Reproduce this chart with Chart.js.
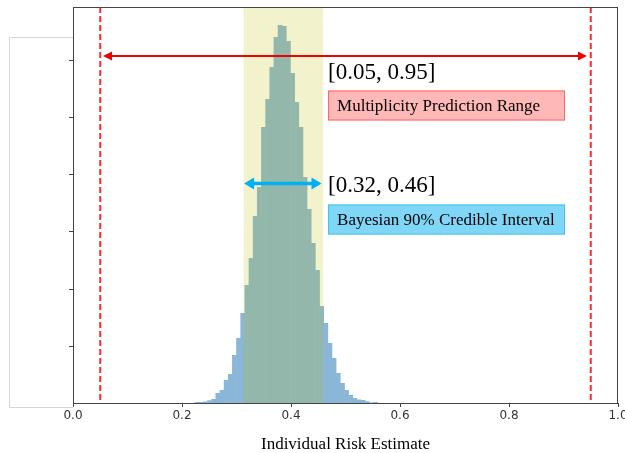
<!DOCTYPE html>
<html>
<head>
<meta charset="utf-8">
<script src="https://cdn.jsdelivr.net/npm/chart.js@4.4.0/dist/chart.umd.min.js"></script>
<style>
  html, body { margin: 0; padding: 0; background: #fff; }
  #wrap { width: 625px; height: 453px; }
</style>
</head>
<body>
<div id="wrap"><canvas id="riskChart" width="625" height="453"></canvas></div>
<script>
// Histogram of the individual risk estimate (bin centres and counts)
const binCenters = [0.2277, 0.2353, 0.2429, 0.2505, 0.2581, 0.2658, 0.2734, 0.2810, 0.2886, 0.2962,
                    0.3038, 0.3115, 0.3191, 0.3267, 0.3343, 0.3419, 0.3495, 0.3572, 0.3648, 0.3724,
                    0.3800, 0.3876, 0.3952, 0.4029, 0.4105, 0.4181, 0.4257, 0.4333, 0.4409, 0.4486,
                    0.4562, 0.4638, 0.4714, 0.4790, 0.4866, 0.4943, 0.5019, 0.5095, 0.5171, 0.5247,
                    0.5323, 0.5400, 0.5476, 0.5552];
const binCounts = [1, 1, 1.5, 2.7, 4, 10, 13, 23, 29, 48,
                   65, 90, 118, 145, 187, 216, 276, 304, 336, 366,
                   378, 377, 362, 330, 301, 276, 226, 194, 160, 133,
                   97, 80, 60, 45, 30, 20, 13, 8, 5, 3.5,
                   3, 1.7, 0.5, 1];

const xTicks = [0.0, 0.2, 0.4, 0.6, 0.8, 1.0];
const yTicks = [57, 114, 171, 229, 286, 343];   // unlabelled ticks on the left axis
const yMax = 396;

// intervals
const multiplicityRange = [0.05, 0.95];
const multiplicityArrow = [0.055, 0.943];
const credibleShade = [0.313, 0.459];
const credibleArrow = [0.314, 0.456];
const multiplicityLabel = '[0.05, 0.95]';
const credibleLabel = '[0.32, 0.46]';
const multiplicityBoxText = 'Multiplicity Prediction Range';
const credibleBoxText = 'Bayesian 90% Credible Interval';

function doubleArrow(ctx, x1, x2, y, color, lw, headLen, headW) {
    ctx.strokeStyle = color;
    ctx.fillStyle = color;
    ctx.lineWidth = lw;
    ctx.setLineDash([]);
    ctx.beginPath();
    ctx.moveTo(x1 + headLen - 1, y);
    ctx.lineTo(x2 - headLen + 1, y);
    ctx.stroke();
    ctx.beginPath();
    ctx.moveTo(x1, y);
    ctx.lineTo(x1 + headLen, y - headW);
    ctx.lineTo(x1 + headLen, y + headW);
    ctx.closePath();
    ctx.fill();
    ctx.beginPath();
    ctx.moveTo(x2, y);
    ctx.lineTo(x2 - headLen, y - headW);
    ctx.lineTo(x2 - headLen, y + headW);
    ctx.closePath();
    ctx.fill();
}

function labelBox(ctx, x1, x2, yTop, yBot, fill, stroke, text) {
    ctx.fillStyle = fill;
    ctx.fillRect(x1, yTop, x2 - x1, yBot - yTop);
    ctx.strokeStyle = stroke;
    ctx.lineWidth = 1;
    ctx.strokeRect(x1 + 0.5, yTop + 0.5, x2 - x1 - 1, yBot - yTop - 1);
    ctx.fillStyle = '#000';
    ctx.font = '17px "Liberation Serif", "Times New Roman", serif';
    ctx.textBaseline = 'middle';
    ctx.textAlign = 'left';
    ctx.fillText(text, x1 + 9, (yTop + yBot) / 2 + 1);
}

const annotationPlugin = {
    id: 'riskAnnotations',
    beforeDraw(chart) {
        const ctx = chart.ctx;
        const area = chart.chartArea;
        ctx.save();
        ctx.fillStyle = '#fff';
        ctx.fillRect(0, 0, chart.width, chart.height);
        // faint frame sitting left of the axes
        ctx.strokeStyle = '#d6d6d6';
        ctx.lineWidth = 1;
        ctx.beginPath();
        ctx.moveTo(area.left, 37.5);
        ctx.lineTo(9.5, 37.5);
        ctx.lineTo(9.5, 407.5);
        ctx.lineTo(area.left, 407.5);
        ctx.stroke();
        ctx.restore();
    },
    afterDatasetsDraw(chart) {
        const ctx = chart.ctx;
        const area = chart.chartArea;
        const xs = chart.scales.x;
        const ys = chart.scales.y;
        ctx.save();

        // credible interval shading
        const s1 = xs.getPixelForValue(credibleShade[0]);
        const s2 = xs.getPixelForValue(credibleShade[1]);
        ctx.fillStyle = 'rgba(191,191,0,0.2)';
        ctx.fillRect(s1, area.top, s2 - s1, area.bottom - area.top);

        // multiplicity range dashed lines
        ctx.strokeStyle = '#ff2a2a';
        ctx.lineWidth = 2;
        ctx.setLineDash([6, 3]);
        multiplicityRange.forEach(v => {
            const px = xs.getPixelForValue(v);
            ctx.beginPath();
            ctx.moveTo(px, area.top);
            ctx.lineTo(px, area.bottom);
            ctx.stroke();
        });

        // arrows
        doubleArrow(ctx, xs.getPixelForValue(multiplicityArrow[0]), xs.getPixelForValue(multiplicityArrow[1]),
            ys.getPixelForValue(347), '#f00000', 2, 9, 4.5);
        doubleArrow(ctx, xs.getPixelForValue(credibleArrow[0]), xs.getPixelForValue(credibleArrow[1]),
            ys.getPixelForValue(219.5), '#00b0f0', 3.5, 10, 6);

        // interval labels
        const tx = xs.getPixelForValue(0.468);
        ctx.fillStyle = '#000';
        ctx.font = '23px "Liberation Serif", "Times New Roman", serif';
        ctx.textBaseline = 'middle';
        ctx.textAlign = 'left';
        ctx.fillText(multiplicityLabel, tx, ys.getPixelForValue(330));
        ctx.fillText(credibleLabel, tx, ys.getPixelForValue(217));

        const bx2 = xs.getPixelForValue(0.9028);
        labelBox(ctx, tx, bx2, ys.getPixelForValue(312.5), ys.getPixelForValue(282.5),
            '#ffb8b8', '#ff6464', multiplicityBoxText);
        labelBox(ctx, tx, bx2, ys.getPixelForValue(198.5), ys.getPixelForValue(168.5),
            '#80d6f6', '#44c2f2', credibleBoxText);

        // axes frame
        ctx.setLineDash([]);
        ctx.strokeStyle = '#444';
        ctx.lineWidth = 1;
        ctx.strokeRect(Math.round(area.left) + 0.5, Math.round(area.top) + 0.5,
            Math.round(area.right - area.left) - 1, Math.round(area.bottom - area.top));
        ctx.restore();
    }
};

const ctx = document.getElementById('riskChart');

new Chart(ctx, {
    type: 'bar',
    data: {
        datasets: [{
            label: 'Individual Risk Estimate',
            data: binCenters.map((c, i) => ({ x: c, y: binCounts[i] })),
            backgroundColor: 'rgb(138,182,216)',
            borderWidth: 0,
            barPercentage: 1.15,
            categoryPercentage: 1.0
        }]
    },
    options: {
        responsive: false,
        animation: false,
        events: [],
        layout: { padding: { top: 7, right: 7, left: 0, bottom: 0 } },
        scales: {
            x: {
                type: 'linear',
                min: 0,
                max: 1,
                offset: false,
                grid: { offset: false, drawOnChartArea: false, tickLength: 4, color: '#444' },
                border: { display: true, color: '#444' },
                afterBuildTicks: s => { s.ticks = xTicks.map(v => ({ value: v })); },
                afterFit: s => { s.height = 50; s.paddingLeft = 0; s.paddingRight = 0; },
                ticks: {
                    padding: 2,
                    color: '#333',
                    font: { family: 'DejaVu Sans', size: 12 },
                    callback: v => Number(v).toFixed(1)
                },
                title: {
                    display: true,
                    text: 'Individual Risk Estimate',
                    color: '#000',
                    font: { family: 'Liberation Serif', size: 17 },
                    padding: { top: 0, bottom: -2 }
                }
            },
            y: {
                min: 0,
                max: yMax,
                grid: { drawOnChartArea: false, tickLength: 4, color: '#444' },
                border: { display: true, color: '#444' },
                afterBuildTicks: s => { s.ticks = yTicks.map(v => ({ value: v })); },
                afterFit: s => { s.width = 73; },
                ticks: { display: false }
            }
        },
        plugins: {
            legend: { display: false },
            tooltip: { enabled: false },
            title: { display: false }
        }
    },
    plugins: [annotationPlugin]
});
</script>
</body>
</html>
